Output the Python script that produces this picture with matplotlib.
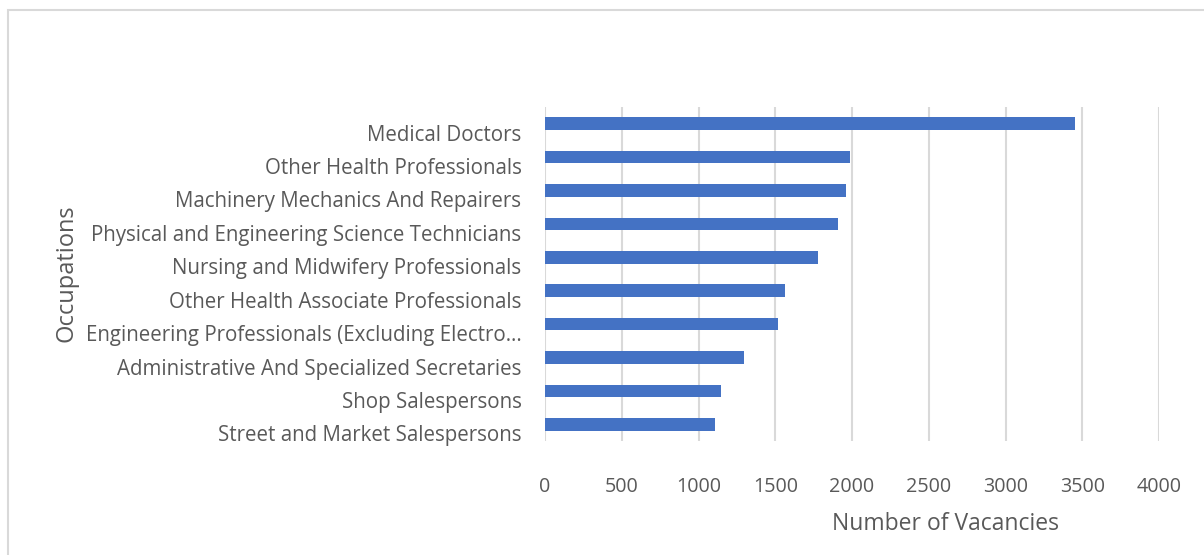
import numpy as np
import matplotlib.pyplot as plt
import matplotlib.transforms as mtransforms
from matplotlib.patches import Rectangle

plt.rcParams['font.family'] = ['Open Sans', 'DejaVu Sans']

# data, top to bottom as shown
occupations = ['Medical Doctors',
               'Other Health Professionals',
               'Machinery Mechanics And Repairers',
               'Physical and Engineering Science Technicians',
               'Nursing and Midwifery Professionals',
               'Other Health Associate Professionals',
               'Engineering Professionals (Excluding Electro\u2026',
               'Administrative And Specialized Secretaries',
               'Shop Salespersons',
               'Street and Market Salespersons']
vacancies = [3455, 1990, 1962, 1910, 1780, 1565, 1520, 1298, 1148, 1108]
xticks = [0, 500, 1000, 1500, 2000, 2500, 3000, 3500, 4000]

txt = '#595959'
fig = plt.figure(figsize=(12.04, 5.55), dpi=100)
ax = fig.add_axes([545/1204, 1-441/555, (1159-545)/1204, (441-107)/555])

# border of the chart area (cut off at right and bottom)
fig.patches.append(Rectangle((8/1204, -0.1), 1.2, 1 - 9.5/555 + 0.1,
                             transform=fig.transFigure, fill=False,
                             edgecolor='#d9d9d9', linewidth=1.5))

y = np.arange(len(occupations))[::-1]
ax.barh(y, vacancies, height=0.38, color='#4472c4', zorder=3)

ax.set_xlim(0, 4000)
ax.set_ylim(-0.5, len(occupations) - 0.5)
ax.set_xticks(xticks)
ax.set_xticklabels([str(t) for t in xticks])
ax.set_yticks(y)
ax.set_yticklabels(occupations)

ax.xaxis.grid(True, color='#d9d9d9', linewidth=1.5, zorder=0)
for s in ax.spines.values():
    s.set_visible(False)
ax.tick_params(axis='x', length=0, labelsize=14.2, labelcolor=txt, pad=26)
ax.tick_params(axis='y', length=0, labelsize=14.8, labelcolor=txt, pad=17)

# category labels sit a little below their bars
shift = mtransforms.ScaledTranslation(0, -0.09, fig.dpi_scale_trans)
for lab in ax.get_yticklabels():
    lab.set_transform(lab.get_transform() + shift)

fig.text(946/1204, 1-524/555, 'Number of Vacancies', ha='center', va='center',
         fontsize=16.5, color=txt)
fig.text(66/1204, 1-273/555, 'Occupations', ha='center', va='center',
         rotation=90, fontsize=17, color=txt)

plt.savefig('out.png')
